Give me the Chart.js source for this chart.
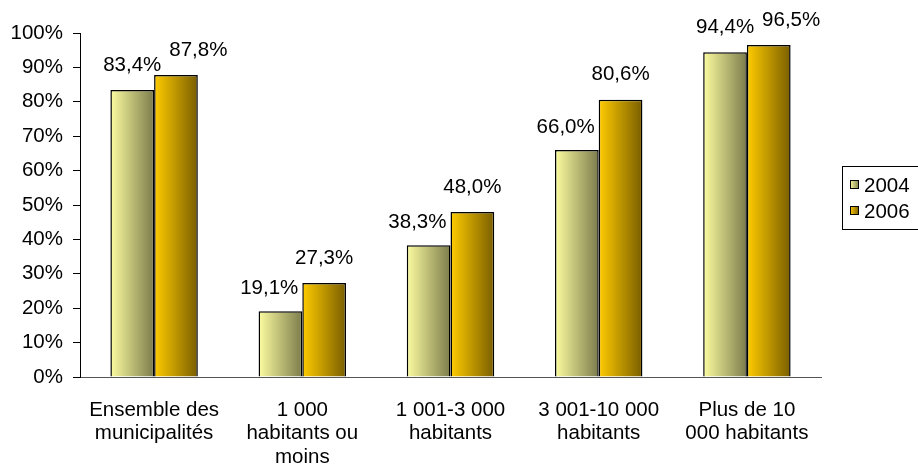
<!DOCTYPE html>
<html>
<head>
<meta charset="utf-8">
<script src="https://cdn.jsdelivr.net/npm/chart.js@4"></script>
<style>
  html, body { margin: 0; padding: 0; background: #fff; }
  #wrap { width: 918px; height: 475px; position: relative; }
</style>
</head>
<body>
<div id="wrap"><canvas id="myChart"></canvas></div>
<script>
var categories = [
    ['Ensemble des', 'municipalités'],
    ['1 000', 'habitants ou', 'moins'],
    ['1 001-3 000', 'habitants'],
    ['3 001-10 000', 'habitants'],
    ['Plus de 10', '000 habitants']
];
var years = ['2004', '2006'];
var values2004 = [83.4, 19.1, 38.3, 66.0, 94.4];
var values2006 = [87.8, 27.3, 48.0, 80.6, 96.5];

var FONT = '"Liberation Sans", Arial, sans-serif';
var FSIZE = 20.5;
var CAT_PCT = 0.59;

// left -> right colour stops for each series
var shades = [
    ['#fcfca0', '#7c7c4c'],
    ['#ffcc00', '#7a5e00']
];

function fmt(v) {
    return v.toFixed(1).replace('.', ',') + '%';
}

function barFill(ctx) {
    var stops = shades[ctx.datasetIndex] || shades[0];
    var chart = ctx.chart;
    var x = chart.scales.x;
    if (ctx.type !== 'data' || !x || !x.width) return stops[0];
    var center = x.getPixelForValue(ctx.dataIndex);
    var bw = x.width / categories.length * CAT_PCT / 2;
    var left = ctx.datasetIndex === 0 ? center - bw : center;
    var g = chart.ctx.createLinearGradient(left, 0, left + bw, 0);
    g.addColorStop(0, stops[0]);
    g.addColorStop(1, stops[1]);
    return g;
}

// value labels above the bars, nudged sideways when they collide
var valueLabels = {
    id: 'valueLabels',
    afterDatasetsDraw: function(chart) {
        var c = chart.ctx;
        var m0 = chart.getDatasetMeta(0).data;
        var m1 = chart.getDatasetMeta(1).data;
        c.save();
        c.font = FSIZE + 'px ' + FONT;
        c.fillStyle = '#000';
        c.textBaseline = 'middle';
        c.textAlign = 'left';
        var half = 8.5;
        for (var i = 0; i < m0.length; i++) {
            var a = m0[i], b = m1[i];
            var t0 = fmt(values2004[i]), t1 = fmt(values2006[i]);
            var w0 = c.measureText(t0).width, w1 = c.measureText(t1).width;
            var y0 = a.y - 25, y1 = b.y - 25;
            var l0 = a.x - w0 / 2;
            if (y0 + half > b.y && l0 + w0 > a.x + a.width / 2) {
                l0 = a.x + a.width / 2 - 4 - w0;
                y0 = a.y - 23;
            }
            var l1 = b.x - w1 / 2;
            if (Math.abs(y0 - y1) < 2 * half && l1 < l0 + w0 + 8) {
                l1 = l0 + w0 + 8;
            }
            c.fillText(t0, l0, y0);
            c.fillText(t1, l1, y1);
        }
        c.restore();
    }
};

// boxed legend at the right edge
var sideLegend = {
    id: 'sideLegend',
    afterDraw: function(chart) {
        var c = chart.ctx;
        c.save();
        c.strokeStyle = '#000';
        c.lineWidth = 1;
        c.strokeRect(842.5, 166.5, 120, 63);
        c.font = FSIZE + 'px ' + FONT;
        c.textBaseline = 'middle';
        c.fillStyle = '#000';
        var rows = [185, 211];
        chart.data.datasets.forEach(function(ds, k) {
            var y = rows[k];
            var g = c.createLinearGradient(850, 0, 859, 0);
            g.addColorStop(0, shades[k][0]);
            g.addColorStop(1, shades[k][1]);
            c.fillStyle = g;
            c.fillRect(850.5, y - 4.5, 8, 8);
            c.strokeRect(850.5, y - 4.5, 8, 8);
            c.fillStyle = '#000';
            c.fillText(ds.label, 864, y + 1);
        });
        c.restore();
    }
};

var ctx = document.getElementById('myChart').getContext('2d');
var myChart = new Chart(ctx, {
    type: 'bar',
    data: {
        labels: categories,
        datasets: [{
            label: years[0],
            data: values2004,
            backgroundColor: barFill,
            borderColor: '#000',
            borderWidth: 1.5
        }, {
            label: years[1],
            data: values2006,
            backgroundColor: barFill,
            borderColor: '#000',
            borderWidth: 1.5
        }]
    },
    options: {
        responsive: true,
        maintainAspectRatio: false,
        animation: false,
        layout: { padding: { top: 33, right: 97, left: 0, bottom: 0 } },
        datasets: { bar: { categoryPercentage: CAT_PCT, barPercentage: 1 } },
        plugins: {
            legend: { display: false },
            tooltip: { enabled: false }
        },
        scales: {
            x: {
                grid: { display: false, drawTicks: false },
                border: { display: true, color: '#555', width: 1 },
                ticks: {
                    color: '#000',
                    padding: 21,
                    maxRotation: 0,
                    autoSkip: false,
                    font: { family: FONT, size: FSIZE, lineHeight: 1.16 }
                },
                afterFit: function(s) { s.height = 98; }
            },
            y: {
                min: 0,
                max: 100,
                grid: { drawOnChartArea: false, drawTicks: true, tickLength: 7, color: '#000' },
                border: { display: true, color: '#000', width: 1 },
                ticks: {
                    stepSize: 10,
                    color: '#000',
                    padding: 10,
                    font: { family: FONT, size: FSIZE },
                    callback: function(v) { return v + '%'; }
                },
                afterFit: function(s) { s.width = 80; }
            }
        }
    },
    plugins: [valueLabels, sideLegend]
});
</script>
</body>
</html>
